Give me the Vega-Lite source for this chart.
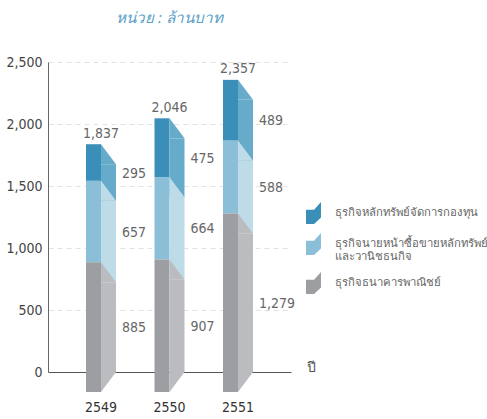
{
  "$schema": "https://vega.github.io/schema/vega-lite/v6.json",
  "width": 243,
  "height": 310,
  "autosize": "none",
  "padding": {"left": 48, "top": 62, "right": 196, "bottom": 47},
  "background": "white",
  "title": {
    "text": "หน่วย : ล้านบาท",
    "font": "Noto Sans",
    "fontStyle": "italic",
    "fontWeight": "normal",
    "fontSize": 15.2,
    "color": "#5b9fc7",
    "anchor": "middle",
    "baseline": "alphabetic",
    "offset": 17,
    "dx": 0
  },
  "config": {
    "view": {"stroke": null},
    "axis": {"labelFont": "DejaVu Sans Condensed", "titleFont": "Noto Sans"}
  },
  "datasets": {
    "segments": [
      {"year": "2549", "cat": "ธุรกิจธนาคารพาณิชย์", "value": 885},
      {"year": "2549", "cat": "ธุรกิจนายหน้าซื้อขายหลักทรัพย์และวานิชธนกิจ", "value": 657},
      {"year": "2549", "cat": "ธุรกิจหลักทรัพย์จัดการกองทุน", "value": 295},
      {"year": "2550", "cat": "ธุรกิจธนาคารพาณิชย์", "value": 907},
      {"year": "2550", "cat": "ธุรกิจนายหน้าซื้อขายหลักทรัพย์และวานิชธนกิจ", "value": 664},
      {"year": "2550", "cat": "ธุรกิจหลักทรัพย์จัดการกองทุน", "value": 475},
      {"year": "2551", "cat": "ธุรกิจธนาคารพาณิชย์", "value": 1279},
      {"year": "2551", "cat": "ธุรกิจนายหน้าซื้อขายหลักทรัพย์และวานิชธนกิจ", "value": 588},
      {"year": "2551", "cat": "ธุรกิจหลักทรัพย์จัดการกองทุน", "value": 489}
    ],
    "totals": [
      {"year": "2549", "total": 1837},
      {"year": "2550", "total": 2046},
      {"year": "2551", "total": 2357}
    ]
  },
  "encoding": {
    "x": {
      "field": "year",
      "type": "ordinal",
      "scale": {"paddingInner": 0, "paddingOuter": 0.274},
      "axis": {
        "labelAngle": 0,
        "ticks": false,
        "domainColor": "#555",
        "labelPadding": 28,
        "labelFontSize": 14,
        "labelColor": "#333",
        "title": "ปี",
        "titleFontSize": 14,
        "titleFontWeight": "normal",
        "titleColor": "#555",
        "titleX": 258,
        "titleY": -5,
        "titleAlign": "left",
        "titleBaseline": "middle"
      }
    }
  },
  "layer": [
    {
      "data": {"name": "segments"},
      "transform": [
        {"stack": "value", "groupby": ["year"], "sort": [{"field": "cat", "order": "ascending"}], "as": ["v0", "v1"]},
        {"filter": "datum.cat != 'ธุรกิจธนาคารพาณิชย์'"}
      ],
      "mark": {"type": "bar", "width": 15, "xOffset": -7.5},
      "encoding": {
        "y": {
          "field": "v1",
          "type": "quantitative",
          "scale": {"domain": [0, 2500], "nice": false},
          "axis": {
            "values": [0, 500, 1000, 1500, 2000, 2500],
            "format": ",d",
            "title": null,
            "ticks": false,
            "labelFontSize": 14,
            "labelColor": "#444",
            "labelPadding": 6,
            "domainColor": "#666",
            "gridDash": [5, 4],
            "gridColor": "#e2e2e2"
          }
        },
        "y2": {"field": "v0"},
        "color": {
          "field": "cat",
          "type": "nominal",
          "scale": {
            "domain": ["ธุรกิจหลักทรัพย์จัดการกองทุน", "ธุรกิจนายหน้าซื้อขายหลักทรัพย์และวานิชธนกิจ", "ธุรกิจธนาคารพาณิชย์"],
            "range": ["#3a8fb8", "#8bbfd7", "#9d9ea1"]
          },
          "legend": {
            "title": null,
            "orient": "none",
            "legendX": 254.5,
            "legendY": 140,
            "symbolType": "M -0.68 -0.3 L 0.05 -0.3 L 0.68 -1 L 0.68 0.4 L 0.05 1 L -0.68 1 Z",
            "symbolSize": 484,
            "symbolStrokeWidth": 0,
            "symbolOpacity": 1,
            "labelFont": "Noto Sans",
            "labelFontSize": 11.3,
            "labelColor": "#666",
            "labelLimit": 0,
            "labelOffset": 10,
            "labelLineHeight": 18,
            "rowPadding": 9,
            "labelExpr": "datum.label == 'ธุรกิจนายหน้าซื้อขายหลักทรัพย์และวานิชธนกิจ' ? ['ธุรกิจนายหน้าซื้อขายหลักทรัพย์', 'และวานิชธนกิจ'] : datum.label"
          }
        }
      }
    },
    {
      "data": {"name": "segments"},
      "transform": [
        {"stack": "value", "groupby": ["year"], "sort": [{"field": "cat", "order": "ascending"}], "as": ["v0", "v1"]},
        {"filter": "datum.cat == 'ธุรกิจธนาคารพาณิชย์'"}
      ],
      "mark": {"type": "bar", "width": 15, "xOffset": -7.5, "y2Offset": 20},
      "encoding": {
        "y": {"field": "v1", "type": "quantitative"},
        "y2": {"field": "v0"},
        "color": {"field": "cat", "type": "nominal"}
      }
    },
    {
      "data": {"name": "segments"},
      "transform": [
        {"stack": "value", "groupby": ["year"], "sort": [{"field": "cat", "order": "ascending"}], "as": ["v0", "v1"]},
        {"filter": "datum.cat != 'ธุรกิจธนาคารพาณิชย์'"}
      ],
      "mark": {"type": "bar", "width": 15, "xOffset": 7.5, "yOffset": 20, "y2Offset": 20},
      "encoding": {
        "y": {"field": "v1", "type": "quantitative"},
        "y2": {"field": "v0"},
        "fill": {
          "field": "cat",
          "type": "nominal",
          "scale": {
            "domain": ["ธุรกิจหลักทรัพย์จัดการกองทุน", "ธุรกิจนายหน้าซื้อขายหลักทรัพย์และวานิชธนกิจ", "ธุรกิจธนาคารพาณิชย์"],
            "range": ["#67abca", "#bddce8", "#bbbcc0"]
          },
          "legend": null
        }
      }
    },
    {
      "data": {"name": "segments"},
      "transform": [
        {"stack": "value", "groupby": ["year"], "sort": [{"field": "cat", "order": "ascending"}], "as": ["v0", "v1"]},
        {"filter": "datum.cat == 'ธุรกิจธนาคารพาณิชย์'"}
      ],
      "mark": {"type": "bar", "width": 15, "xOffset": 7.5, "yOffset": 20},
      "encoding": {
        "y": {"field": "v1", "type": "quantitative"},
        "y2": {"field": "v0"},
        "fill": {"field": "cat", "type": "nominal", "legend": null}
      }
    },
    {
      "data": {"name": "segments"},
      "transform": [
        {"stack": "value", "groupby": ["year"], "sort": [{"field": "cat", "order": "ascending"}], "as": ["v0", "v1"]}
      ],
      "mark": {"type": "point", "shape": "M -0.75 -1 L 0.75 1 L -0.75 1 Z", "size": 400, "filled": true, "opacity": 1, "strokeWidth": 0, "xOffset": 7.5, "yOffset": 10},
      "encoding": {
        "y": {"field": "v1", "type": "quantitative"},
        "fill": {"field": "cat", "type": "nominal", "legend": null}
      }
    },
    {
      "data": {"name": "segments"},
      "transform": [
        {"stack": "value", "groupby": ["year"], "sort": [{"field": "cat", "order": "ascending"}], "as": ["v0", "v1"]},
        {"filter": "datum.cat == 'ธุรกิจธนาคารพาณิชย์'"}
      ],
      "mark": {"type": "point", "shape": "M -0.75 -1 L 0.75 -1 L -0.75 1 Z", "size": 400, "filled": true, "opacity": 1, "strokeWidth": 0, "xOffset": 7.5, "yOffset": 10},
      "encoding": {
        "y": {"field": "v0", "type": "quantitative"},
        "fill": {"field": "cat", "type": "nominal", "legend": null}
      }
    },
    {
      "data": {"name": "segments"},
      "mark": {"type": "text", "align": "left", "baseline": "middle", "xOffset": 21, "yOffset": 11, "fontSize": 14, "font": "DejaVu Sans Condensed", "color": "#666"},
      "encoding": {
        "y": {"field": "value", "type": "quantitative", "stack": "zero", "bandPosition": 0.5},
        "order": {"field": "cat", "sort": "ascending"},
        "text": {"field": "value", "type": "quantitative", "format": ","}
      }
    },
    {
      "data": {"name": "totals"},
      "mark": {"type": "text", "align": "center", "baseline": "middle", "yOffset": -10.5, "fontSize": 14, "font": "DejaVu Sans Condensed", "color": "#666"},
      "encoding": {
        "y": {"field": "total", "type": "quantitative"},
        "text": {"field": "total", "type": "quantitative", "format": ","}
      }
    }
  ]
}
